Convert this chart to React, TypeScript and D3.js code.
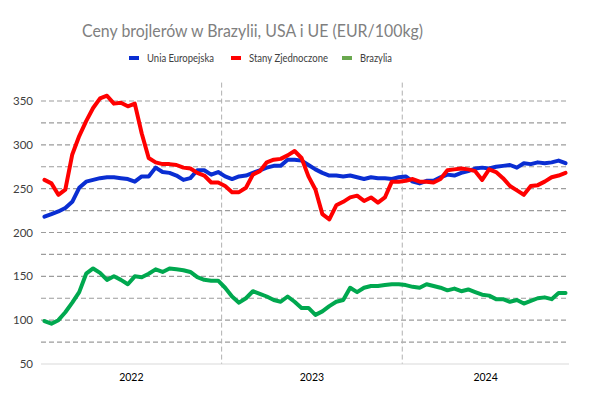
import React, { useEffect, useRef } from 'react';
import * as d3 from 'd3';

// years on the category axis and how many (two-week) points each one holds
const years = ['2022', '2023', '2024'];
const pointsPerYear = [26, 26, 24];

const yTicks = [50, 100, 150, 200, 250, 300, 350];
const gridTicks = [75, 100, 125, 150, 175, 200, 225, 250, 275, 300, 325, 350];

// EUR/100kg
const ue = [
  218, 221, 224, 228, 235, 251, 258, 260, 262, 263, 263, 262, 261, 258, 264, 264, 274, 269, 268, 265, 260, 262, 271, 271, 266, 269,
  264, 261, 264, 265, 268, 271, 274, 276, 276, 283, 283, 282, 277, 272, 268, 265, 265, 264, 265, 263, 261, 263, 262, 262, 261, 263,
  264, 258, 256, 259, 259, 263, 266, 265, 268, 270, 273, 274, 273, 275, 276, 277, 274, 279, 278, 280, 279, 280, 282, 279,
];
const usa = [
  260, 256, 243, 249, 289, 310, 327, 342, 353, 356, 347, 348, 344, 347, 313, 285, 280, 278, 278, 277, 274, 273, 268, 265, 257, 257,
  253, 246, 246, 251, 266, 270, 280, 283, 284, 288, 293, 285, 264, 249, 221, 215, 231, 235, 240, 242, 236, 240, 234, 240, 258, 258,
  259, 261, 258, 258, 257, 261, 271, 272, 273, 272, 270, 260, 272, 269, 262, 253, 248, 243, 253, 254, 258, 263, 265, 268,
];
const brazil = [
  99, 96, 100, 109, 120, 132, 153, 159, 154, 146, 150, 146, 141, 150, 149, 153, 158, 155, 159, 158, 157, 155, 149, 146, 145, 145,
  137, 127, 120, 125, 133, 130, 127, 123, 121, 127, 121, 114, 114, 106, 110, 116, 121, 123, 137, 132, 137, 139, 139, 140, 141, 141,
  140, 138, 137, 141, 139, 137, 134, 136, 133, 135, 132, 129, 128, 124, 124, 121, 123, 119, 122, 125, 126, 124, 131, 131,
];

const series = [
  { name: 'Unia Europejska', values: ue, color: '#0a2ed2', legend: '#0a2ed2', textW: 67 },
  { name: 'Stany Zjednoczone', values: usa, color: '#ff0000', legend: '#ff0000', textW: 79 },
  { name: 'Brazylia', values: brazil, color: '#00a84f', legend: '#6aa84f', textW: 32 },
];

export default function App() {
  const svgRef = useRef<SVGSVGElement>(null);

  useEffect(() => {
    const width = 595, height = 396;
    const svg = d3.select(svgRef.current);
    svg.selectAll('*').remove();
    const font = 'Lato, "Open Sans", sans-serif';

    const n = d3.sum(pointsPerYear);
    const x = d3.scaleBand<number>().domain(d3.range(n)).range([41, 569]).paddingInner(0).paddingOuter(0);
    const y = d3.scaleLinear().domain([50, 350]).range([364, 101]);
    const cx = (i: number) => (x(i) as number) + x.bandwidth() / 2;

    svg.append('rect').attr('width', width).attr('height', height).attr('fill', '#fff');

    // title
    svg.append('text')
      .attr('x', 82).attr('y', 37)
      .attr('font-family', font).attr('font-size', 17)
      .attr('textLength', 341).attr('lengthAdjust', 'spacingAndGlyphs')
      .attr('fill', '#7f7f7f')
      .text('Ceny brojlerów w Brazylii, USA i UE (EUR/100kg)');

    // legend
    const legendX = [129, 231, 342];
    series.forEach((s, i) => {
      const lg = svg.append('g').attr('transform', `translate(${legendX[i]},58)`);
      lg.append('rect').attr('x', 0).attr('y', -2).attr('width', 10).attr('height', 4).attr('fill', s.legend);
      lg.append('text').attr('x', 18).attr('y', 4)
        .attr('font-family', font).attr('font-size', 10.5).attr('fill', '#404040')
        .attr('textLength', s.textW).attr('lengthAdjust', 'spacingAndGlyphs')
        .text(s.name);
    });

    // horizontal dashed gridlines
    svg.append('g').selectAll('line').data(gridTicks).join('line')
      .attr('x1', 41).attr('x2', 569)
      .attr('y1', d => y(d)).attr('y2', d => y(d))
      .attr('stroke', '#9c9c9c').attr('stroke-width', 1.2).attr('stroke-dasharray', '5,3');

    // year separators
    const bounds = [pointsPerYear[0], pointsPerYear[0] + pointsPerYear[1]];
    svg.append('g').selectAll('line').data(bounds).join('line')
      .attr('x1', d => x(d) as number).attr('x2', d => x(d) as number)
      .attr('y1', y(371)).attr('y2', y(50))
      .attr('stroke', '#b0b0b0').attr('stroke-width', 1).attr('stroke-dasharray', '5,3');

    // category axis line
    svg.append('line').attr('x1', 41).attr('x2', 569).attr('y1', y(50)).attr('y2', y(50))
      .attr('stroke', '#d9d9d9').attr('stroke-width', 1);

    // y labels
    svg.append('g').selectAll('text').data(yTicks).join('text')
      .attr('x', 33).attr('y', d => y(d) + 4)
      .attr('text-anchor', 'end')
      .attr('font-family', font).attr('font-size', 11.5).attr('fill', '#404040')
      .text(d => d);

    // year labels
    let start = 0;
    years.forEach((yr, i) => {
      const a = x(start) as number;
      const b = start + pointsPerYear[i] < n ? (x(start + pointsPerYear[i]) as number) : 569;
      svg.append('text')
        .attr('x', (a + b) / 2).attr('y', 381)
        .attr('text-anchor', 'middle')
        .attr('font-family', font).attr('font-size', 10.5).attr('fill', '#000')
        .text(yr);
      start += pointsPerYear[i];
    });

    // lines
    const line = d3.line<number>().x((_, i) => cx(i)).y(d => y(d));
    series.forEach(s => {
      svg.append('path').datum(s.values)
        .attr('d', line)
        .attr('fill', 'none')
        .attr('stroke', s.color).attr('stroke-width', 4)
        .attr('stroke-linejoin', 'round').attr('stroke-linecap', 'round');
    });
  }, []);

  return (
    <svg ref={svgRef} width={595} height={396} style={{ position: 'absolute', left: 0, top: 0 }} />
  );
}
